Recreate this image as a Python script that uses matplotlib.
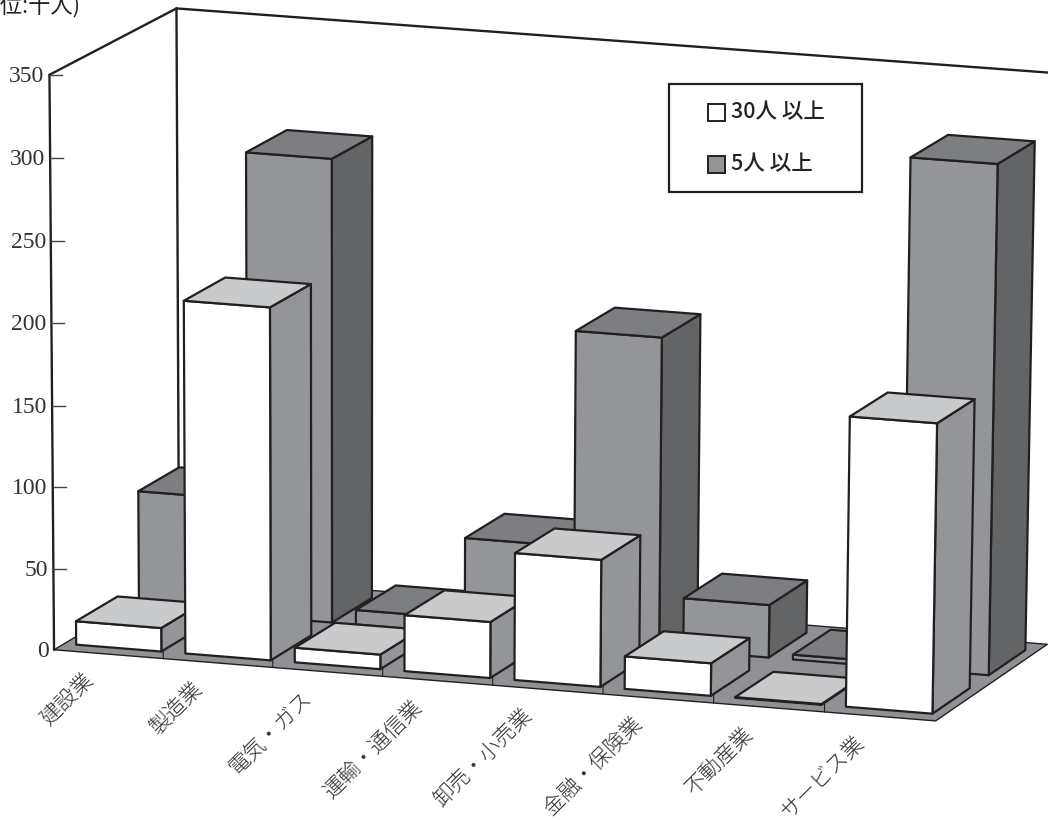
import matplotlib
matplotlib.use("Agg")
import matplotlib.pyplot as plt
import numpy as np
from matplotlib.patches import Polygon, Rectangle

plt.rcParams["font.family"] = ["Noto Sans CJK JP", "DejaVu Sans"]

categories = ["建設業", "製造業", "電気・ガス", "運輸・通信業", "卸売・小売業", "金融・保険業", "不動産業", "サービス業"]
over_30 = [14.5, 216, 9, 34.5, 78, 20, 0.4, 177]
over_5 = [72, 285, 9, 59, 191.5, 32.5, 3, 312]
y_ticks = [0, 50, 100, 150, 200, 250, 300, 350]

INK = "#231f20"
FRONT_COLORS = ("#ffffff", "#c8cacb", "#939598")
BACK_COLORS = ("#939598", "#7c7e81", "#636466")
FLOOR = "#8f9194"

# camera calibration: (category, depth, value) -> canvas position
calib_world = np.array([
    [0, 0, 0], [0, 0, 350], [8, 0, 0], [8, 0, 350],
    [0, 1, 0], [0, 1, 350], [8, 1, 0], [8, 1, 350],
], dtype=float)
calib_canvas = np.array([
    [53, 648], [49, 73], [935, 720], [947, 146],
    [180, 577], [177, 10], [1048, 645], [1056, 69],
], dtype=float)


def fit_camera(world, canvas):
    rows, rhs = [], []
    for (a, b, c), (u, v) in zip(world, canvas):
        rows.append([a, b, c, 1, 0, 0, 0, 0, -u * a, -u * b, -u * c])
        rhs.append(u)
        rows.append([0, 0, 0, 0, a, b, c, 1, -v * a, -v * b, -v * c])
        rhs.append(v)
    p = np.linalg.lstsq(np.array(rows), np.array(rhs), rcond=None)[0]
    return np.append(p, 1).reshape(3, 4)


CAMERA = fit_camera(calib_world, calib_canvas)


def project(x, d, z):
    u, v, w = CAMERA @ np.array([x, d, z, 1.0])
    return u / w, v / w


def quad(ax, corners, color, lw=1.6, zorder=2):
    pts = [project(*c) for c in corners]
    ax.add_patch(Polygon(pts, closed=True, facecolor=color, edgecolor=INK, lw=lw,
                         joinstyle="round", zorder=zorder))


def draw_bar(ax, i, value, d0, d1, colors):
    x0, x1 = i + 0.11, i + 0.89
    face, top, side = colors
    quad(ax, [(x1, d0, 0), (x1, d1, 0), (x1, d1, value), (x1, d0, value)], side)
    quad(ax, [(x0, d0, 0), (x1, d0, 0), (x1, d0, value), (x0, d0, value)], face)
    quad(ax, [(x0, d0, value), (x1, d0, value), (x1, d1, value), (x0, d1, value)], top)


fig = plt.figure(figsize=(10.48, 8.21), dpi=100)
ax = fig.add_axes([0, 0, 1, 1])
ax.set_xlim(0, 1048)
ax.set_ylim(821, 0)
ax.axis("off")

n = len(categories)

# walls
line_kw = dict(color=INK, lw=1.7, solid_capstyle="round", zorder=1)
for a, b in [((0, 0, 0), (0, 0, 350)), ((0, 0, 350), (0, 1, 350)),
             ((0, 1, 350), (n, 1, 350)), ((0, 1, 350), (0, 1, 0))]:
    pa, pb = project(*a), project(*b)
    ax.plot([pa[0], pb[0]], [pa[1], pb[1]], **line_kw)

# floor
quad(ax, [(0, 0, 0), (n, 0, 0), (n, 1, 0), (0, 1, 0)], FLOOR, lw=1.0, zorder=1.5)

# back row first, then the front row over it
for i in range(n):
    draw_bar(ax, i, over_5[i], 0.58, 0.91, BACK_COLORS)
for i in range(n):
    draw_bar(ax, i, over_30[i], 0.08, 0.41, FRONT_COLORS)

# category ticks on the front edge of the floor
for i in range(1, n):
    pa, pb = project(i, 0, 0), project(i, 0, 5)
    ax.plot([pa[0], pb[0]], [pa[1], pb[1]], color=INK, lw=0.8, zorder=3)

# value axis
for v in y_ticks:
    px, py = project(0, 0, v)
    if v > 0:
        ax.plot([px, px + 13], [py, py], color="#444444", lw=1.0, zorder=3)
    ax.text(px - 5, py + 1.5, str(v), ha="right", va="center", fontsize=17,
            family="Liberation Serif", color="#333333")

# category labels, rotated and ending under each slot
for i, label in enumerate(categories):
    px, py = project(i + 0.5, 0, 0)
    ax.text(px - 19, py + 23, label, rotation=45, rotation_mode="anchor",
            ha="right", va="center", fontsize=15.5, color="#333333", fontweight="light")

ax.text(80, 6, "(単位:十人)", ha="right", va="center", fontsize=16, color="#222222")

# legend box
ax.add_patch(Rectangle((669, 84), 193, 108, facecolor="white", edgecolor=INK, lw=1.6, zorder=4))
ax.add_patch(Rectangle((708, 104), 17, 17, facecolor=FRONT_COLORS[0], edgecolor=INK, lw=1.4, zorder=5))
ax.add_patch(Rectangle((708, 156), 17, 17, facecolor=FRONT_COLORS[2], edgecolor=INK, lw=1.4, zorder=5))
ax.text(731, 112, "30人 以上", ha="left", va="center", fontsize=15.5, color="#222222",
        fontweight="medium", zorder=5)
ax.text(731, 164, "5人 以上", ha="left", va="center", fontsize=15.5, color="#222222",
        fontweight="medium", zorder=5)

fig.savefig("out.png", dpi=100)
